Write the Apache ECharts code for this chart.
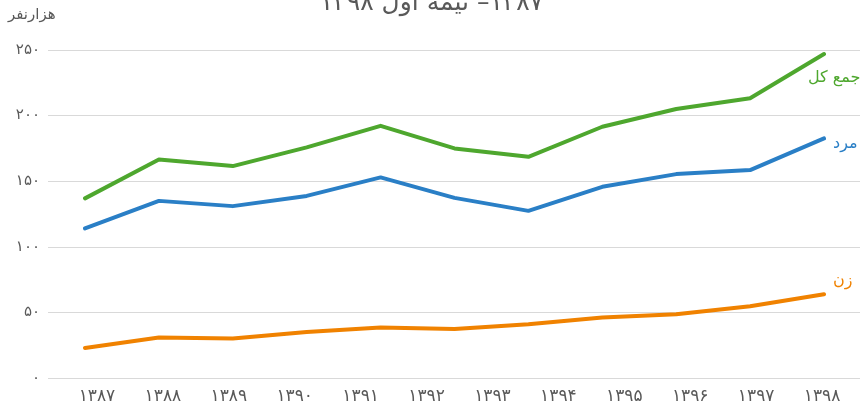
<!DOCTYPE html>
<html>
<head>
<meta charset="utf-8">
<script src="https://cdn.jsdelivr.net/npm/echarts@6/dist/echarts.min.js"></script>
<style>
  html, body { margin: 0; padding: 0; background: #fff; }
  #chart { width: 863px; height: 409px; }
</style>
</head>
<body>
<div id="chart"></div>
<script>
// برچسب‌های محور افقی (۱۲ سال)
const yearLabels = ["۱۳۸۷", "۱۳۸۸", "۱۳۸۹", "۱۳۹۰", "۱۳۹۱", "۱۳۹۲", "۱۳۹۳", "۱۳۹۴", "۱۳۹۵", "۱۳۹۶", "۱۳۹۷", "۱۳۹۸"];
// نقاط داده (۱۱ نقطه روی تصویر)
const pointIndex = ["1", "2", "3", "4", "5", "6", "7", "8", "9", "10", "11"];
const totalValues = [136.9, 166.6, 161.5, 175.8, 192.2, 175.0, 168.6, 191.5, 205.0, 213.2, 246.9];
const maleValues = [114.0, 135.0, 131.0, 138.8, 152.9, 137.3, 127.4, 145.7, 155.4, 158.5, 182.6];
const femaleValues = [22.9, 30.8, 30.1, 35.1, 38.4, 37.4, 41.0, 46.1, 48.6, 54.7, 63.9];
const yTickLabels = ["۰", "۵۰", "۱۰۰", "۱۵۰", "۲۰۰", "۲۵۰"];

const FONT = "DejaVu Sans";
const GRAY = "#595959";

const chart = echarts.init(document.getElementById("chart"));

const hiddenY = (gridIndex) => ({
  type: "value",
  gridIndex,
  min: 0,
  max: 250,
  show: false,
});

const lineSeries = (name, data, color, offset) => ({
  name,
  type: "line",
  xAxisIndex: 2,
  yAxisIndex: 2,
  data,
  symbol: "none",
  lineStyle: { color, width: 4, cap: "round", join: "round" },
  itemStyle: { color },
  endLabel: {
    show: true,
    formatter: name,
    color,
    fontFamily: FONT,
    fontSize: 16,
    offset,
  },
});

chart.setOption({
  animation: false,
  backgroundColor: "#fff",
  title: {
    text: "\u202B۱۳۸۷– نیمه اول ۱۳۹۸\u202C",
    left: "center",
    top: -14,
    textStyle: { fontFamily: FONT, fontSize: 25, fontWeight: "normal", color: GRAY },
  },
  graphic: [
    {
      type: "text",
      left: 8,
      top: 8,
      style: { text: "هزارنفر", font: "15px " + FONT, fill: GRAY },
    },
  ],
  grid: [
    // خطوط راهنما
    { left: 48, right: 3, top: 50, bottom: 31 },
    // برچسب سال‌ها
    { left: 64, right: 8, top: 50, bottom: 31 },
    // داده‌ها
    { left: 85, right: 39, top: 50, bottom: 31 },
  ],
  xAxis: [
    { type: "category", gridIndex: 0, data: yearLabels, show: false },
    {
      type: "category",
      gridIndex: 1,
      data: yearLabels,
      boundaryGap: true,
      axisLine: { show: false },
      axisTick: { show: false },
      axisLabel: { color: GRAY, fontFamily: FONT, fontSize: 17, margin: 10 },
    },
    { type: "category", gridIndex: 2, data: pointIndex, boundaryGap: false, show: false },
  ],
  yAxis: [
    {
      type: "value",
      gridIndex: 0,
      min: 0,
      max: 250,
      interval: 50,
      axisLine: { show: false },
      axisTick: { show: false },
      splitLine: { lineStyle: { color: "#d9d9d9", width: 1 } },
      axisLabel: {
        color: GRAY,
        fontFamily: FONT,
        fontSize: 15,
        margin: 8,
        formatter: (v) => yTickLabels[Math.round(v / 50)],
      },
    },
    hiddenY(1),
    hiddenY(2),
  ],
  series: [
    lineSeries("جمع کل", totalValues, "#4ea72e", [-24, 24]),
    lineSeries("مرد", maleValues, "#2a7fc6", [1, 5]),
    lineSeries("زن", femaleValues, "#f08200", [1, -13]),
  ],
});
</script>
</body>
</html>
